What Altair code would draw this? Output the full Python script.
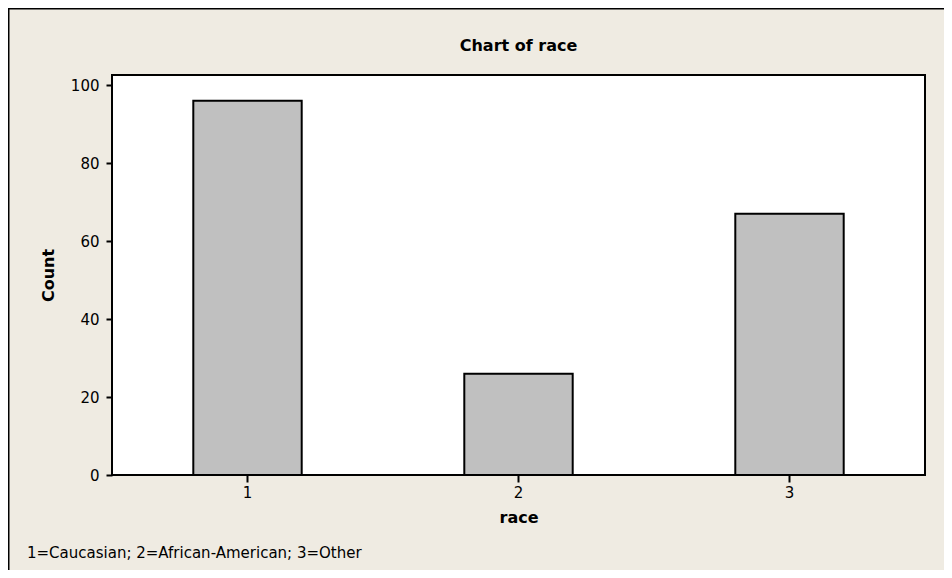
import altair as alt
import pandas as pd

categories = ["1", "2", "3"]
counts = [96, 26, 67]
y_ticks = [0, 20, 40, 60, 80, 100]
title_text = "Chart of race"
footnote = "1=Caucasian; 2=African-American; 3=Other"

df = pd.DataFrame({"race": categories, "Count": counts})

FONT = "DejaVu Sans"
W, H = 813, 400
PAD_L, PAD_T, PAD_R, PAD_B = 104, 67, 19, 95

bars = alt.Chart(df).mark_bar(
    color="#C0C0C0", stroke="black", strokeWidth=2
).encode(
    x=alt.X("race:O", sort=categories,
            scale=alt.Scale(paddingInner=0.6, paddingOuter=0.3),
            axis=alt.Axis(title="race", labelAngle=0, labelFont=FONT, labelFontSize=15,
                          labelColor="black", titleFont=FONT, titleFontSize=16,
                          titleFontWeight="bold", titleColor="black", tickColor="black",
                          tickWidth=2, tickSize=7, labelPadding=3, titlePadding=9,
                          domain=False)),
    y=alt.Y("Count:Q", scale=alt.Scale(domain=[0, 102.6], nice=False),
            axis=alt.Axis(title="Count", values=y_ticks, grid=False, labelFont=FONT,
                          labelFontSize=15, labelColor="black", titleFont=FONT,
                          titleFontSize=16, titleFontWeight="bold", titleColor="black",
                          tickColor="black", tickWidth=2, tickSize=6, labelPadding=7,
                          titlePadding=14, domain=False)),
)

title = alt.Chart(pd.DataFrame({"t": [title_text]})).mark_text(
    font=FONT, fontSize=16, fontWeight="bold", align="center", baseline="middle", color="black"
).encode(x=alt.value(W / 2), y=alt.value(-29), text="t:N")

note = alt.Chart(pd.DataFrame({"t": [footnote]})).mark_text(
    font=FONT, fontSize=15, align="left", baseline="middle", color="black"
).encode(x=alt.value(-85), y=alt.value(478), text="t:N")

left_border = alt.Chart(pd.DataFrame({"a": [0]})).mark_rule(color="black", strokeWidth=2).encode(
    x=alt.value(-PAD_L + 0.5), y=alt.value(-PAD_T), y2=alt.value(H + PAD_B)
)
top_border = alt.Chart(pd.DataFrame({"a": [0]})).mark_rule(color="black", strokeWidth=2).encode(
    x=alt.value(-PAD_L), x2=alt.value(W + PAD_R), y=alt.value(-PAD_T + 0.5)
)

chart = alt.layer(bars, title, note, left_border, top_border).properties(
    width=W, height=H,
    autosize=alt.AutoSizeParams(type="none"),
    padding={"left": PAD_L, "top": PAD_T, "right": PAD_R, "bottom": PAD_B},
    background="#EFEBE2",
).configure_view(
    fill="white", stroke="black", strokeWidth=2
)

chart.save("out.html", embed_options={"renderer": "svg", "actions": False})
